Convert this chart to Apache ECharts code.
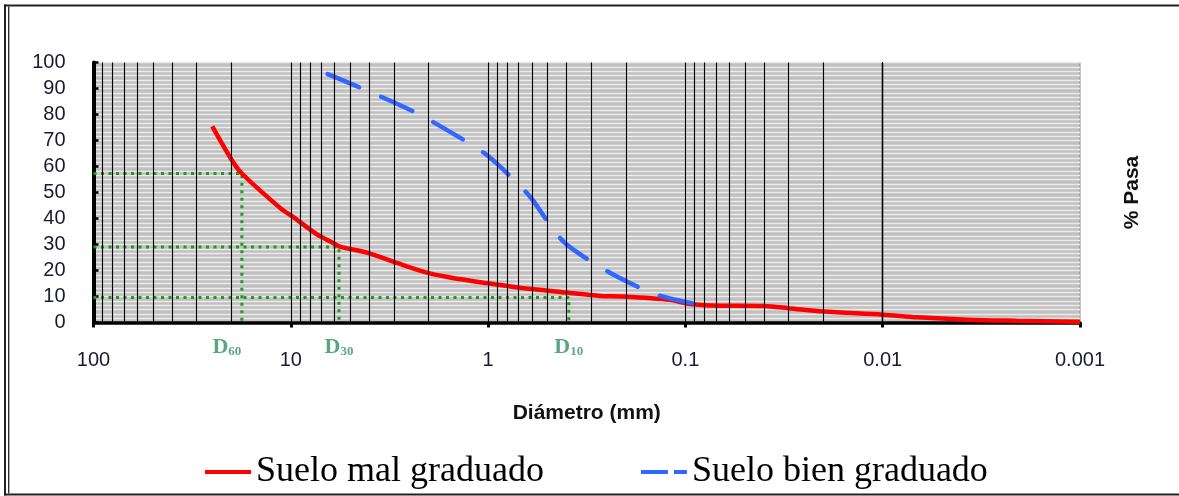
<!DOCTYPE html>
<html>
<head>
<meta charset="utf-8">
<script src="https://cdn.jsdelivr.net/npm/echarts@6/dist/echarts.min.js"></script>
<style>
  html, body { margin: 0; padding: 0; background: #ffffff; }
  #chart { width: 1179px; height: 496px; }
</style>
</head>
<body>
<div id="chart"></div>
<script>
// Curva granulométrica: % que pasa vs. diámetro (mm), eje logarítmico invertido

// Suelo mal graduado: [diámetro (mm), % pasa]
const sueloMal = [
  [25, 75.4], [20, 62.7], [17.7, 57.3], [11.3, 44], [9.7, 40.5],
  [7.4, 34], [6.1, 30.6], [5.7, 29.3], [4, 26.6], [2.9, 22.9], [2, 19],
  [1.4, 16.7], [1, 15.1], [0.69, 13.4], [0.4, 11.5], [0.27, 10.2], [0.21, 10],
  [0.12, 8.7], [0.1, 7.4], [0.075, 6.5], [0.04, 6.3], [0.03, 5.5], [0.02, 4.2],
  [0.01, 3.0], [0.0067, 2.0], [0.0037, 1.1], [0.0021, 0.7], [0.001, 0.3]
];

// Suelo bien graduado: [diámetro (mm), % pasa]
const sueloBien = [
  [6.5, 95.5], [4.2, 89.5], [2.3, 80.5], [1.25, 69], [1.0, 64], [0.72, 54],
  [0.6, 47.5], [0.47, 36], [0.4, 30], [0.28, 22], [0.22, 17.5], [0.15, 11.5],
  [0.12, 9.3], [0.075, 6]
];

// Diámetros característicos D60, D30, D10
const dNombres = ['60', '30', '10'];
const dDiametro = [17.7, 5.7, 0.39];
const dPasa = [57.3, 29, 9.6];

// Rejilla logarítmica vertical: multiplicadores por década
const multiplicadores = [1, 2, 3, 4, 5, 6, 7, 8, 9];
const decadas = [0.001, 0.01, 0.1, 1, 10];

const xTicks = ['100', '10', '1', '0.1', '0.01', '0.001'];
const serieNombres = ['Suelo mal graduado', 'Suelo bien graduado'];

const lineasRejilla = [];
decadas.forEach(d => multiplicadores.forEach(m => {
  const v = +(m * d).toPrecision(6);
  if (v !== 0.001) lineasRejilla.push({ xAxis: v });
}));

const rojo = '#ff0000';
const azul = '#3366ff';
const verde = '#1f9a1f';
const verdeTexto = '#2f9160';
const sansFont = 'Liberation Sans, Arial, sans-serif';
const serifFont = 'Liberation Serif, Times New Roman, serif';

// Líneas punteadas de D60/D30/D10: desde el eje izquierdo hasta la curva y bajando a 0
const seriesD = dNombres.map((n, i) => ({
  type: 'line',
  name: 'D' + n,
  z: 2,
  silent: true,
  symbol: 'none',
  data: [[100, dPasa[i]], [dDiametro[i], dPasa[i]], [dDiametro[i], 0]],
  lineStyle: { color: verde, width: 3, type: [3, 4.5] }
}));

const etiquetasD = {
  type: 'scatter',
  name: 'etiquetasD',
  z: 5,
  silent: true,
  symbolSize: 0,
  data: dNombres.map((n, i) => ({
    value: [dDiametro[i], 0],
    label: {
      show: true,
      position: 'bottom',
      distance: 14,
      offset: [i === 0 ? -15 : 0, 0],
      formatter: '{d|D}{s|' + n + '}',
      rich: {
        d: { fontFamily: serifFont, fontWeight: 'bold', fontSize: 22, color: verdeTexto, verticalAlign: 'bottom' },
        s: { fontFamily: serifFont, fontWeight: 'bold', fontSize: 13, color: verdeTexto, verticalAlign: 'bottom' }
      }
    }
  }))
};

const chart = echarts.init(document.getElementById('chart'), null, { renderer: 'canvas' });

chart.setOption({
  animation: false,
  backgroundColor: '#ffffff',
  grid: {
    left: 93.5, right: 99, top: 62.5, bottom: 173.5,
    show: true,
    backgroundColor: '#c0c0c0',
    borderColor: '#8c8c8c',
    borderWidth: 1
  },
  legend: {
    left: 200,
    top: 449,
    itemGap: 97,
    itemWidth: 46,
    itemHeight: 4,
    textStyle: { fontFamily: serifFont, fontSize: 36, color: '#000000' },
    data: [
      { name: serieNombres[0], icon: 'path://M0,0H46V4H0Z', itemStyle: { color: rojo } },
      { name: serieNombres[1], icon: 'path://M0,0H27V4H0Z M33,0H46V4H33Z', itemStyle: { color: azul } }
    ]
  },
  xAxis: {
    type: 'log',
    logBase: 10,
    min: 0.001,
    max: 100,
    inverse: true,
    name: 'Diámetro (mm)',
    nameLocation: 'middle',
    nameGap: 80,
    nameTextStyle: { fontFamily: sansFont, fontWeight: 'bold', fontSize: 21, color: '#111111' },
    axisLine: { show: true, onZero: false, lineStyle: { color: '#000000', width: 3.5 } },
    axisTick: { show: true, inside: false, length: 5, lineStyle: { color: '#000000', width: 3 } },
    axisLabel: {
      margin: 28,
      fontFamily: sansFont,
      fontSize: 20,
      color: '#1a1a2e',
      formatter: (v) => {
        const idx = Math.round(2 - Math.log10(v));
        return xTicks[idx] !== undefined ? xTicks[idx] : '';
      }
    },
    splitLine: { show: false },
    minorTick: { show: false }
  },
  yAxis: [
    {
      type: 'value',
      min: 0,
      max: 100,
      interval: 10,
      position: 'left',
      axisLine: { show: true, onZero: false, lineStyle: { color: '#000000', width: 4 } },
      axisTick: { show: true, inside: true, length: 5, lineStyle: { color: '#000000', width: 2.5 } },
      axisLabel: { margin: 28, fontFamily: sansFont, fontSize: 20, color: '#1a1a2e' },
      splitLine: { show: true, lineStyle: { color: '#ebebeb', width: 1.4 } },
      minorTick: { show: false, splitNumber: 6 },
      minorSplitLine: { show: true, lineStyle: { color: '#ebebeb', width: 1.4 } }
    },
    {
      type: 'value',
      min: 0,
      max: 100,
      position: 'right',
      name: '% Pasa',
      nameLocation: 'middle',
      nameGap: 42,
      nameRotate: 90,
      nameTextStyle: { fontFamily: sansFont, fontWeight: 'bold', fontSize: 21, color: '#111111' },
      axisLine: { show: false },
      axisTick: { show: false },
      axisLabel: { show: false },
      splitLine: { show: false }
    }
  ],
  graphic: [
    // marco exterior de la figura
    { type: 'line', silent: true, shape: { x1: 4, y1: 5.5, x2: 1179, y2: 5.5 }, style: { stroke: '#222222', lineWidth: 2 } },
    { type: 'line', silent: true, shape: { x1: 4, y1: 494.5, x2: 1179, y2: 494.5 }, style: { stroke: '#222222', lineWidth: 2 } },
    { type: 'line', silent: true, shape: { x1: 5, y1: 4.5, x2: 5, y2: 495.5 }, style: { stroke: '#222222', lineWidth: 2 } },
    { type: 'line', silent: true, shape: { x1: 8.7, y1: 6.5, x2: 8.7, y2: 493.5 }, style: { stroke: '#222222', lineWidth: 1.3 } }
  ],
  series: [
    {
      // rejilla vertical logarítmica
      type: 'line',
      name: 'rejilla',
      z: 1,
      silent: true,
      data: [],
      markLine: {
        silent: true,
        symbol: ['none', 'none'],
        label: { show: false },
        lineStyle: { color: '#000000', width: 1.1, type: 'solid' },
        emphasis: { disabled: true },
        data: lineasRejilla
      }
    },
    ...seriesD,
    {
      type: 'line',
      name: serieNombres[0],
      z: 4,
      symbol: 'none',
      smooth: 0.3,
      data: sueloMal,
      color: rojo,
      lineStyle: { color: rojo, width: 4.5 }
    },
    {
      type: 'line',
      name: serieNombres[1],
      z: 4,
      symbol: 'none',
      smooth: 0.3,
      data: sueloBien,
      color: azul,
      lineStyle: { color: azul, width: 4.5, type: [34, 24], cap: 'round' }
    },
    etiquetasD
  ]
});
</script>
</body>
</html>
